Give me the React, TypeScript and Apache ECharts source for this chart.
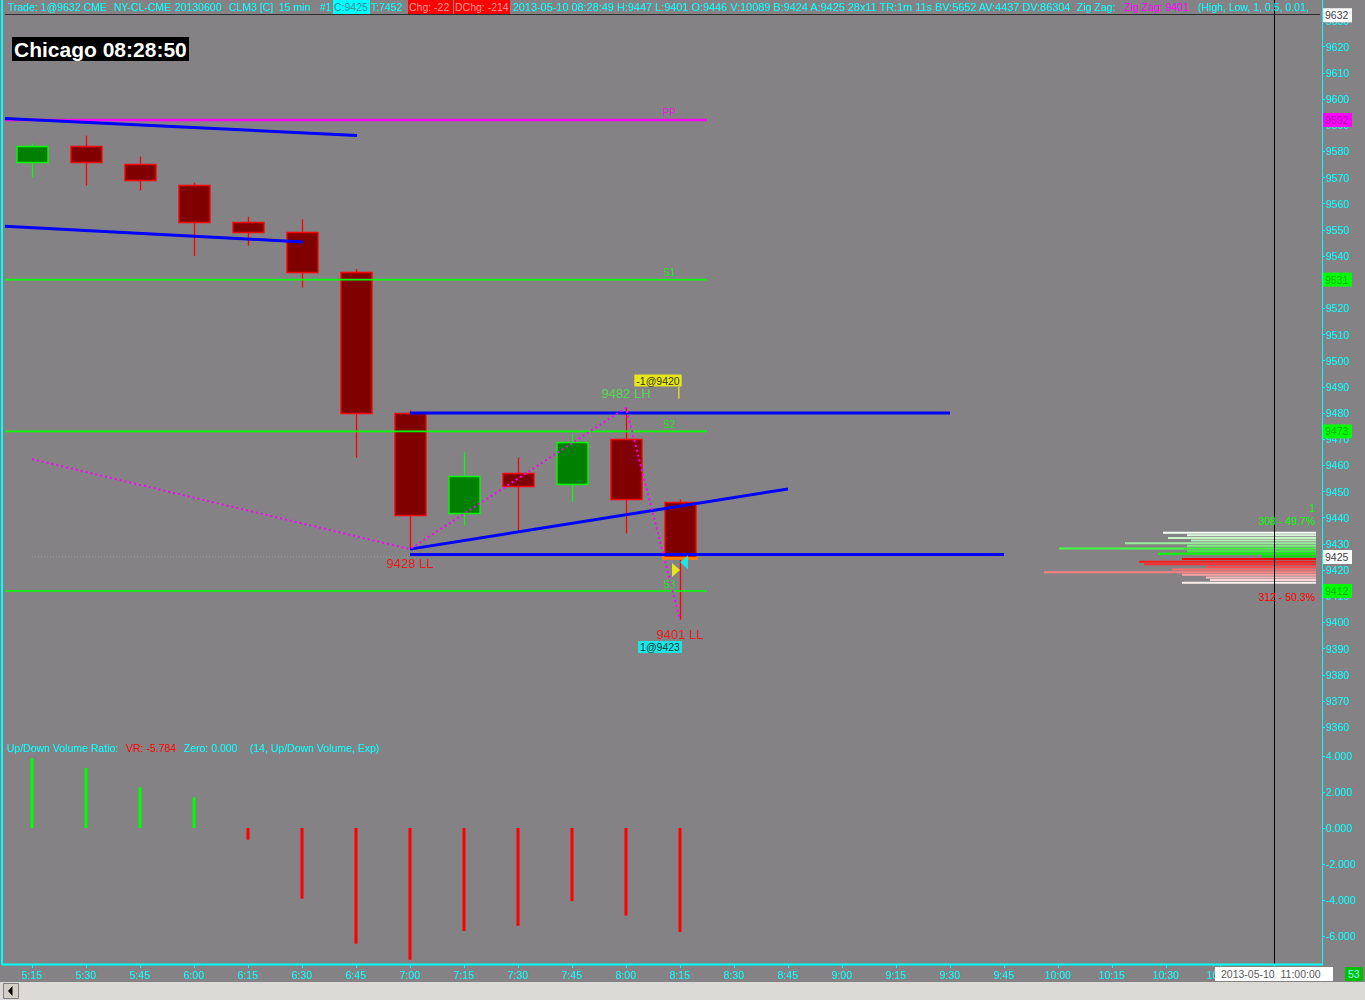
import React, { useEffect, useRef } from 'react';
import * as echarts from 'echarts';

const FONT = '"Liberation Sans", Arial, sans-serif';
const CYAN = '#00ffff';
const GREEN = '#00ff00';
const RED = '#ff0000';
const MAGENTA = '#ff00ff';
const BLUE = '#0000ff';

// ---- data ----
const times = ['5:15', '5:30', '5:45', '6:00', '6:15', '6:30', '6:45', '7:00', '7:15', '7:30', '7:45', '8:00', '8:15', '8:30', '8:45', '9:00', '9:15', '9:30', '9:45', '10:00', '10:15', '10:30', '10:45', '11:00'];
const opens = [9576, 9582, 9575, 9567, 9553, 9549, 9534, 9480, 9442, 9457, 9453, 9470, 9446];
const closes = [9582, 9576, 9569, 9553, 9549, 9534, 9480, 9441, 9456, 9452, 9469, 9447, 9425];
const lows = [9570, 9567, 9565, 9540, 9544, 9528, 9463, 9428, 9437, 9435, 9446, 9434, 9401];
const highs = [9583, 9586, 9578, 9568, 9555, 9554, 9535, 9481, 9465, 9463, 9472, 9482, 9447];
const volumeRatio = [3.87, 3.33, 2.26, 1.7, -0.65, -3.93, -6.43, -7.32, -5.72, -5.43, -4.06, -4.87, -5.784];

const pivotNames = ['PP', 'S1', 'S2', 'S3'];
const pivotValues = [9592, 9531, 9473, 9412];
const pivotStart = -0.5;
const pivotEnd = 12.5;

// trend lines: [x1, y1, x2, y2] in bar index / price
const trendUpperLeft = [-0.5, 9592.6, 6.02, 9586.1];
const trendLowerLeft = [-0.5, 9551.4, 5.02, 9545.4];
const channelTop = [7, 9480, 17, 9480];
const channelRise = [7, 9428, 14, 9451];
const channelBottom = [7, 9426, 18, 9426];

const zigzagX = [0, 7, 11, 12];
const zigzagY = [9462.4, 9428, 9482, 9401];

const swingTexts = ['9428 LL', '9482 LH', '9401 LL'];
const swingX = [7, 11, 12];
const swingY = [9428, 9482, 9401];

const sellFill = 9420;
const buyFill = 9423;
const lastPrice = 9425;

const profileVolumes = [153, 129, 148, 125, 191, 129, 257, 129, 158, 54, 134, 177, 172, 110, 144, 272, 134, 110, 106, 134];
const profileShades = ['#f2fff2', '#dcf8dc', '#c8f4c8', '#b4f0b4', '#9cee9c', '#84ec84', '#44ff44', '#3cf03c', '#00ff00', '#00e400', '#ff0000', '#ff1a1a', '#ff2e2e', '#ff4c4c', '#ff6e6e', '#ff8080', '#ffa0a0', '#ffbcbc', '#ffd4d4', '#fff0f0'];

const axisTags = [
  { v: 9632, bg: '#ffffff', fg: '#404040' },
  { v: 9592, bg: '#ff00ff', fg: '#b000b0' },
  { v: 9531, bg: '#00ff00', fg: '#00b000' },
  { v: 9473, bg: '#00ff00', fg: '#00b000' },
  { v: 9425, bg: '#ffffff', fg: '#404040' },
  { v: 9412, bg: '#00ff00', fg: '#00b000' },
];

function seg(a: number[]) {
  return [[a[0], a[1]], [a[2], a[3]]];
}

function txt(x: number, y: number, text: string, fill: string, size = 10.5, extra: any = {}) {
  return {
    type: 'text', x, y, z: 100, silent: true,
    style: { text, fill, fontSize: size, fontFamily: FONT, verticalAlign: 'middle', align: 'left', ...extra },
  };
}
function rect(x: number, y: number, w: number, h: number, fill: string, extra: any = {}) {
  return { type: 'rect', z: 99, silent: true, shape: { x, y, width: w, height: h }, style: { fill, ...extra } };
}
function line(x1: number, y1: number, x2: number, y2: number, stroke: string, w = 1, z = 98) {
  return { type: 'line', z, silent: true, shape: { x1, y1, x2, y2 }, style: { stroke, lineWidth: w } };
}

function lineSeries(data: any[], color: string, width: number, type: any = 'solid') {
  return {
    type: 'line', xAxisIndex: 2, yAxisIndex: 0, data, symbol: 'none', silent: true,
    lineStyle: { color, width, type }, z: 3,
  };
}

export default function App() {
  const ref = useRef<HTMLDivElement>(null);
  useEffect(() => {
    const chart = echarts.init(ref.current!, null, { renderer: 'svg' });
    const candleData = opens.map((o, i) => [i, o, closes[i], lows[i], highs[i]]);

    const series: any[] = [
      {
        type: 'custom', xAxisIndex: 2, yAxisIndex: 0, data: candleData, silent: true, z: 2,
        encode: { x: 0, y: [1, 2, 3, 4] },
        renderItem: (params: any, api: any) => {
          const i = api.value(0);
          const o = api.value(1), c = api.value(2), l = api.value(3), h = api.value(4);
          const pO = api.coord([i, o]), pC = api.coord([i, c]), pL = api.coord([i, l]), pH = api.coord([i, h]);
          const up = c >= o;
          const stroke = up ? GREEN : RED;
          const fill = up ? '#008000' : '#800000';
          const cx = Math.round(pO[0]) + 0.5;
          const top = Math.round(Math.min(pO[1], pC[1])) + 0.5;
          const bot = Math.round(Math.max(pO[1], pC[1])) + 0.5;
          return {
            type: 'group',
            children: [
              { type: 'line', shape: { x1: cx, y1: pH[1], x2: cx, y2: pL[1] }, style: { stroke, lineWidth: 1.3 } },
              { type: 'rect', shape: { x: cx - 15.5, y: top, width: 31, height: bot - top }, style: { fill, stroke, lineWidth: 1.3 } },
            ],
          };
        },
      },
    ];
    pivotValues.forEach((v, i) => {
      series.push(lineSeries([[pivotStart, v], [pivotEnd, v]], i === 0 ? MAGENTA : GREEN, i === 0 ? 2.5 : 1.6));
    });
    [trendUpperLeft, trendLowerLeft, channelTop, channelRise, channelBottom].forEach((t) => {
      series.push(lineSeries(seg(t), BLUE, 3));
    });
    series.push(lineSeries([[0, lastPrice], [7, lastPrice]], 'rgba(170,190,170,0.6)', 1, [1, 2]));
    series.push(lineSeries(zigzagX.map((x, i) => [x, zigzagY[i]]), MAGENTA, 2, [2, 3]));
    series.push(lineSeries([[11.67, lastPrice - 0.5], [12.33, lastPrice - 0.5]], '#ff8000', 3));
    series.push(lineSeries([[11.98, 9485.5], [11.98, 9490]], '#ffff00', 1));

    // pivot labels
    series.push({
      type: 'scatter', xAxisIndex: 2, yAxisIndex: 0, symbolSize: 0, silent: true, z: 5,
      data: pivotValues.map((v, i) => ({
        value: [11.8, v], name: pivotNames[i],
        label: { color: i === 0 ? MAGENTA : GREEN },
      })),
      label: { show: true, position: 'top', distance: 2, formatter: '{b}', fontSize: 10, fontFamily: FONT },
    });
    // swing labels
    series.push({
      type: 'scatter', xAxisIndex: 2, yAxisIndex: 0, symbolSize: 0, silent: true, z: 5,
      data: swingTexts.map((t, i) => ({
        value: [swingX[i], swingY[i]], name: t,
        label: { color: i === 1 ? '#44ee44' : RED, position: i === 1 ? 'top' : 'bottom', distance: 8 },
      })),
      label: { show: true, formatter: '{b}', fontSize: 13, fontFamily: FONT, fontWeight: 500 },
    });
    // order labels
    series.push({
      type: 'scatter', xAxisIndex: 2, yAxisIndex: 0, symbolSize: 0, silent: true, z: 6,
      data: [
        { value: [12, 9492.4], name: '-1@' + sellFill, label: { backgroundColor: '#ffff00', offset: [-22, 0] } },
        { value: [12, 9390.6], name: '1@' + buyFill, label: { backgroundColor: CYAN, offset: [-20, 0] } },
      ],
      label: { show: true, position: 'inside', formatter: '{b}', color: '#000', fontSize: 10.5, fontFamily: FONT, padding: [1, 2, 0, 2] },
    });
    // fill triangles
    series.push({
      type: 'scatter', xAxisIndex: 2, yAxisIndex: 0, silent: true, z: 6, symbol: 'triangle',
      data: [
        { value: [12, sellFill], symbolRotate: -90, symbolOffset: [-4, 0], itemStyle: { color: '#ffff00' } },
        { value: [12, buyFill], symbolRotate: 90, symbolOffset: [4, 0], itemStyle: { color: CYAN } },
      ],
      symbolSize: [14, 8],
    });
    // volume ratio
    series.push({
      type: 'bar', xAxisIndex: 1, yAxisIndex: 1, barWidth: 3, clip: false, silent: true,
      data: volumeRatio.map((v) => ({ value: v, itemStyle: { color: v >= 0 ? GREEN : RED } })),
    });
    // volume profile
    series.push({
      type: 'bar', xAxisIndex: 3, yAxisIndex: 2, barWidth: 2, silent: true,
      data: profileVolumes.map((v, i) => ({ value: v, itemStyle: { color: profileShades[i] } })),
    });

    const option: any = {
      animation: false,
      backgroundColor: '#848284',
      textStyle: { fontFamily: FONT },
      grid: [
        { left: 5, top: 20.5, width: 1296, height: 706.6 },
        { left: 5, top: 756, width: 1296, height: 180 },
        { left: 1026, top: 531.4, width: 290, height: 52.6 },
      ],
      xAxis: [
        { type: 'category', gridIndex: 0, data: times, show: false, axisLine: { onZero: false } },
        {
          type: 'category', gridIndex: 1, data: times, offset: 28,
          axisLine: { show: false, onZero: false },
          axisTick: { show: true, alignWithLabel: true, length: 4, lineStyle: { color: CYAN } },
          axisLabel: { color: CYAN, fontSize: 10.5, margin: 5, interval: 0, fontFamily: FONT },
          splitLine: { show: false },
        },
        { type: 'value', gridIndex: 0, min: -0.5, max: 23.5, show: false, axisLine: { onZero: false } },
        { type: 'value', gridIndex: 2, min: 0, max: 290, inverse: true, show: false, axisLine: { onZero: false } },
      ],
      yAxis: [
        {
          type: 'value', gridIndex: 0, position: 'right', offset: 21, min: 9360, max: 9630, interval: 10,
          axisLine: { show: false, onZero: false },
          axisTick: { show: true, length: 3, lineStyle: { color: CYAN } },
          axisLabel: { color: CYAN, fontSize: 10.5, margin: 4, fontFamily: FONT, formatter: (v: number) => String(v) },
          splitLine: { show: false },
        },
        {
          type: 'value', gridIndex: 1, position: 'right', offset: 21, min: -6, max: 4, interval: 2,
          axisLine: { show: false, onZero: false },
          axisTick: { show: true, length: 3, lineStyle: { color: CYAN } },
          axisLabel: { color: CYAN, fontSize: 10.5, margin: 4, fontFamily: FONT, formatter: (v: number) => v.toFixed(3) },
          splitLine: { show: false },
        },
        { type: 'category', gridIndex: 2, data: profileVolumes.map((_, i) => 'r' + i), inverse: true, show: false, axisLine: { onZero: false } },
      ],
      series,
    };
    chart.setOption(option);

    const cursorX = chart.convertToPixel({ xAxisIndex: 0 }, '11:00') as number;
    const g: any[] = [];
    // frame
    g.push(rect(1, 0, 2, 965, CYAN));
    g.push(line(1322.5, 0, 1322.5, 965, CYAN, 1));
    g.push(line(2, 964.5, 1323, 964.5, CYAN, 2));
    g.push(line(Math.round(cursorX) + 0.5, 0, Math.round(cursorX) + 0.5, 964, '#000000', 1, 97));
    // header
    g.push(line(5, 14.5, 1320, 14.5, '#2c2c2c', 1));
    g.push(rect(333, 0, 37, 14, CYAN));
    g.push(rect(408, 0, 45, 14, RED));
    g.push(rect(454, 0, 56, 14, RED));
    const hy = 7;
    g.push(txt(8, hy, 'Trade: 1@9632 CME', CYAN));
    g.push(txt(114, hy, 'NY-CL-CME', CYAN));
    g.push(txt(175, hy, '20130600', CYAN));
    g.push(txt(229, hy, 'CLM3 [C]', CYAN));
    g.push(txt(279, hy, '15 min', CYAN));
    g.push(txt(320, hy, '#1', CYAN));
    g.push(txt(334, hy, 'C:9425', '#2f8f8f'));
    g.push(txt(371, hy, 'T:7452', CYAN));
    g.push(txt(409, hy, 'Chg: -22', '#ff9a9a'));
    g.push(txt(455, hy, 'DChg: -214', '#ff9a9a'));
    g.push(txt(513, hy, '2013-05-10 08:28:49 H:9447 L:9401 O:9446 V:10089 B:9424 A:9425 28x11 TR:1m 11s BV:5652 AV:4437 DV:86304', CYAN, 10.9));
    g.push(txt(1077, hy, 'Zig Zag:', CYAN));
    g.push(txt(1124, hy, 'Zig Zag: 9401', MAGENTA));
    g.push(txt(1198, hy, '(High, Low, 1, 0.5, 0.01,', CYAN));
    // Chicago clock
    g.push(rect(12, 37, 177, 24, '#000000'));
    g.push(txt(14, 49.5, 'Chicago 08:28:50', '#ffffff', 21, { fontWeight: 'bold' }));
    // indicator title
    g.push(txt(7, 748, 'Up/Down Volume Ratio:', CYAN));
    g.push(txt(126, 748, 'VR: -5.784', RED));
    g.push(txt(184, 748, 'Zero: 0.000', CYAN));
    g.push(txt(250, 748, '(14, Up/Down Volume, Exp)', CYAN));
    // profile stats
    g.push(txt(1315, 508, '1', GREEN, 10.5, { align: 'right' }));
    g.push(txt(1315, 521, '308 - 49.7%', GREEN, 10.5, { align: 'right' }));
    g.push(txt(1315, 597, '312 - 50.3%', RED, 10.5, { align: 'right' }));
    // axis tags
    axisTags.forEach((t) => {
      const y = chart.convertToPixel({ yAxisIndex: 0 }, t.v) as number;
      g.push(rect(1323, y - 7, 29, 14, t.bg));
      g.push(txt(1325, y, String(t.v), t.fg));
    });
    // bottom area
    g.push(rect(1215, 967, 118, 14, '#ffffff'));
    g.push(txt(1221, 974, '2013-05-10  11:00:00', '#5a5a5a'));
    g.push(rect(1345, 967, 18, 14, '#00c000'));
    g.push(txt(1348, 974, '53', '#90ffff'));
    g.push(rect(0, 982, 1365, 18, '#dcdad6'));
    g.push(rect(3.5, 983.5, 15, 15, '#d4d0c8', { stroke: '#808080', lineWidth: 1 }));
    g.push({ type: 'polygon', z: 101, silent: true, shape: { points: [[12.5, 986], [8, 991], [12.5, 996]] }, style: { fill: '#000' } });

    chart.setOption({ graphic: { elements: g } });
    return () => chart.dispose();
  }, []);
  return <div ref={ref} style={{ position: 'fixed', left: 0, top: 0, width: 1365, height: 1000 }} />;
}
